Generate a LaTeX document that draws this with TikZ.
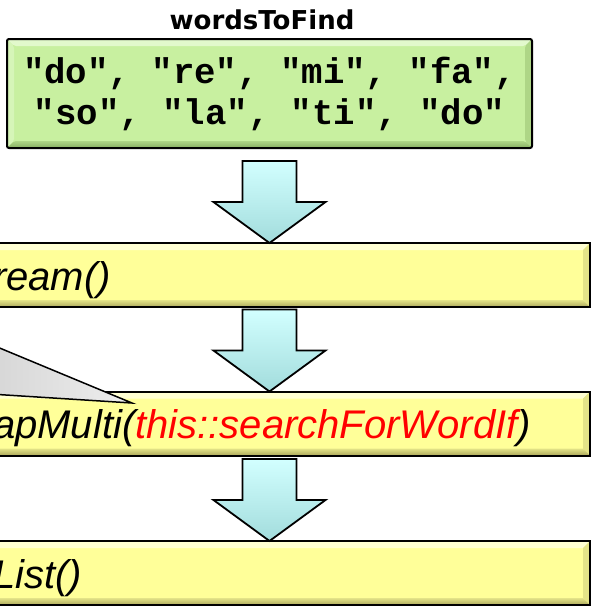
\documentclass[tikz,border=0pt]{standalone}
\usepackage{fontspec}
\setmainfont{Liberation Sans}
\newfontfamily\codefont{Liberation Mono}
\newfontfamily\titlefont{DejaVu Sans}
\usetikzlibrary{calc,positioning}

\definecolor{greenbase}{HTML}{C8F0A0}
\definecolor{greenlight}{HTML}{E2F9CC}
\definecolor{greenside}{HTML}{D6F5B8}
\definecolor{greenmid}{HTML}{AED686}
\definecolor{greendark}{HTML}{86AE62}
\definecolor{yellowbase}{HTML}{FFFF99}
\definecolor{yellowlight}{HTML}{FFFFD2}
\definecolor{yellowside}{HTML}{FFFFBE}
\definecolor{yellowmid}{HTML}{E4E488}
\definecolor{yellowdark}{HTML}{ACA85C}
\definecolor{arrowlight}{HTML}{D2FFFF}
\definecolor{arrowdark}{HTML}{A2DCDC}
\definecolor{calloutlight}{HTML}{EEEEEE}
\definecolor{calloutdark}{HTML}{D6D6D6}

% raised look for the boxes
\tikzset{
  bevel/.style={path picture={
    \coordinate (bnw) at (path picture bounding box.north west);
    \coordinate (bne) at (path picture bounding box.north east);
    \coordinate (bsw) at (path picture bounding box.south west);
    \coordinate (bse) at (path picture bounding box.south east);
    \fill[#1light] (bnw) -- (bne) -- ([shift={(-7pt,-7pt)}]bne) -- ([shift={(7pt,-7pt)}]bnw) -- cycle;
    \fill[#1side] (bnw) -- (bsw) -- ([shift={(7pt,7pt)}]bsw) -- ([shift={(7pt,-7pt)}]bnw) -- cycle;
    \fill[#1mid] (bne) -- (bse) -- ([shift={(-7pt,7pt)}]bse) -- ([shift={(-7pt,-7pt)}]bne) -- cycle;
    \shade[top color=#1mid, bottom color=#1dark] (bsw) -- (bse) -- ([shift={(-7pt,7pt)}]bse) -- ([shift={(7pt,7pt)}]bsw) -- cycle;
  }}
}

\newcommand{\flowarrow}[1]{%
  \filldraw[flowarrow] (#1) -- ++(-56,-41) -- ++(29,0) -- ++(0,-41) -- ++(54,0) -- ++(0,41) -- ++(29,0) -- cycle;}

\begin{document}
\begin{tikzpicture}[x=1pt, y=-1pt,
    titlestyle/.style={font=\titlefont\bfseries\fontsize{26}{30}\selectfont, inner sep=0pt},
    wordsbox/.style={draw=black, line width=2pt, rounded corners=2pt, fill=greenbase, bevel=green,
      minimum width=525pt, minimum height=109pt, inner sep=0pt, outer sep=0pt, align=center,
      font=\codefont\bfseries\fontsize{35.7}{41}\selectfont},
    stagebox/.style={draw=black, line width=2pt, fill=yellowbase, bevel=yellow,
      minimum width=600pt, minimum height=64pt, inner sep=0pt, outer sep=0pt},
    stagetext/.style={font=\itshape\fontsize{40}{46}\selectfont, inner sep=0pt},
    flowarrow/.style={draw=black, line width=1.8pt, line join=miter, top color=arrowlight, bottom color=arrowdark},
    callout/.style={draw=black, line width=1.5pt, left color=calloutdark, right color=calloutlight}]
  \useasboundingbox (0,0) rectangle (592,606);
  \clip (0,0) rectangle (592,606);

  \node[titlestyle, anchor=base] (title) at (262,29) {wordsToFind};
  \node[wordsbox] (words) at (269.5,93.5) {"do", "re", "mi", "fa",\\"so", "la", "ti", "do"};

  \node[stagebox] (stream) at (290,275) {};
  \node[stagebox] (flat) at (290,423.5) {};
  \node[stagebox] (tolist) at (290,573) {};

  \node[stagetext, anchor=base west] (streamtext) at ($(stream.west)+(3,15)$) {ream()};
  \node[stagetext, anchor=base west] (flattext) at ($(flat.west)+(3,15)$) {apMulti(\textcolor{red}{this::searchForWordIf})};
  \node[stagetext, anchor=base west] (tolisttext) at ($(tolist.west)+(3,15)$) {List()};

  \coordinate (tip1) at (words.south |- stream.north);
  \coordinate (tip2) at (words.south |- flat.north);
  \coordinate (tip3) at (words.south |- tolist.north);
  \flowarrow{tip1}
  \flowarrow{tip2}
  \flowarrow{tip3}

  % callout pointing at the flatMap stage
  \coordinate (calltip) at (132,403);
  \filldraw[callout] (-10,344) -- (calltip) -- (-10,394) -- cycle;
\end{tikzpicture}
\end{document}
